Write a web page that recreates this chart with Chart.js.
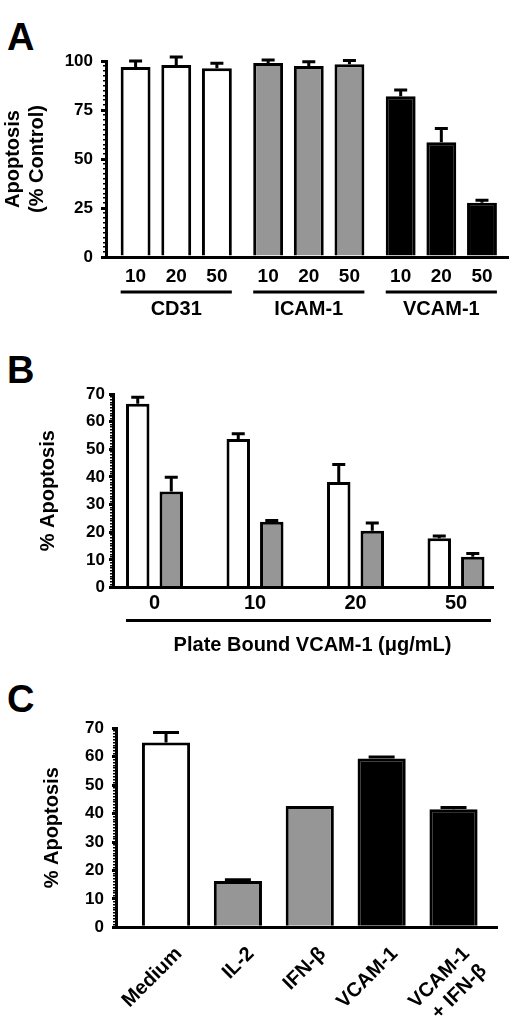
<!DOCTYPE html>
<html lang="en">
<head>
<meta charset="UTF-8">
<title>Apoptosis</title>
<script src="https://cdn.jsdelivr.net/npm/chart.js@4.4.1/dist/chart.umd.min.js"></script>
<style>
  body { margin: 0; background: #fff; width: 520px; height: 1022px; position: relative; overflow: hidden; }
  .panel { position: absolute; left: 0; }
  .letter { position: absolute; left: 7px; font: bold 38px/1 'Liberation Sans', Arial, sans-serif; color: #000; }
</style>
</head>
<body>
<div class="letter" style="top:18px">A</div>
<div class="letter" style="top:351px">B</div>
<div class="letter" style="top:680px">C</div>
<canvas class="panel" id="chartA" width="520" height="335" style="top:0"></canvas>
<canvas class="panel" id="chartB" width="520" height="335" style="top:335px"></canvas>
<canvas class="panel" id="chartC" width="520" height="352" style="top:670px"></canvas>

<script>
// ---- panel A: apoptosis (% control) by coating protein and dose
const groupsA = ['CD31', 'ICAM-1', 'VCAM-1'];
const dosesA = ['10', '20', '50'];
const apopA10 = [97, 99, 82];
const apopA20 = [98, 97.4, 58.5];
const apopA50 = [96.3, 98.3, 27.7];
const errA10 = [3, 1.5, 3.2];
const errA20 = [4, 2.2, 7];
const errA50 = [2.5, 1.9, 1.2];
const fillA = ['#ffffff', '#969696', '#000000'];

// ---- panel B: % apoptosis vs plate bound VCAM-1
const doseB = ['0', '10', '20', '50'];
const apopOpenB = [66.5, 53.7, 38.2, 17.8];
const errOpenB = [2.3, 1.9, 6.3, 0.8];
const apopGreyB = [34.7, 23.8, 20.5, 11.1];
const errGreyB = [5.2, 0.4, 2.8, 1.2];
const xTitleB = 'Plate Bound VCAM-1 (\u03bcg/mL)';

// ---- panel C: % apoptosis by treatment
const treatC = ['Medium', 'IL-2', 'IFN-\u03b2', 'VCAM-1', ['VCAM-1', '+ IFN-\u03b2']];
const apopC = [65, 16.3, 42.7, 59.4, 41.5];
const errC = [3.5, 0.4, 0, 0.5, 0.6];
const fillC = ['#ffffff', '#969696', '#969696', '#000000', '#000000'];

const FONT = "'Liberation Sans', Arial, sans-serif";
Chart.defaults.font.family = FONT;
Chart.defaults.font.weight = 'bold';
Chart.defaults.color = '#000';
Chart.defaults.animation = false;

// widen / narrow the category range so bars sit where the figure has them
function padCategories(before, after) {
    return scale => {
        scale._startValue -= before;
        scale._valueRange += before + after;
    };
}

// left axis with labelled major ticks plus a dotted row of minor ticks
function leftAxes(max, major, minor, width, tickLen, tickPad, title, titlePad) {
    return {
        y: {
            type: 'linear', position: 'left', weight: 1, min: 0, max: max,
            afterFit: s => { s.width = width; },
            ticks: { stepSize: major, padding: tickPad, font: { size: 17, weight: 'bold' }, color: '#000' },
            grid: { drawOnChartArea: false, tickLength: tickLen, lineWidth: 3, color: '#000' },
            border: { color: '#000', width: 3 },
            title: { display: true, text: title, color: '#000', font: { size: 20, weight: 'bold', lineHeight: 1.2 },
                     padding: { top: titlePad, bottom: 0 } }
        },
        yMinor: {
            type: 'linear', position: 'left', weight: 0, min: 0, max: max,
            afterFit: s => { s.width = 0; },
            ticks: { stepSize: minor, display: false },
            grid: { drawOnChartArea: false, tickLength: 3, lineWidth: 1.5, color: '#000' },
            border: { display: false }
        }
    };
}

// upward error bars with a cap
const errorBars = {
    id: 'errorBars',
    afterDatasetsDraw(chart, args, opts) {
        const ctx = chart.ctx;
        const yScale = chart.scales.y;
        ctx.save();
        ctx.strokeStyle = '#000';
        ctx.lineWidth = 3;
        chart.data.datasets.forEach((ds, di) => {
            chart.getDatasetMeta(di).data.forEach((bar, i) => {
                const err = ds.errors[i];
                if (!err) return;
                const yTop = yScale.getPixelForValue(ds.data[i] + err);
                ctx.beginPath();
                ctx.moveTo(bar.x, bar.y);
                ctx.lineTo(bar.x, yTop);
                ctx.moveTo(bar.x - opts.cap / 2, yTop);
                ctx.lineTo(bar.x + opts.cap / 2, yTop);
                ctx.stroke();
            });
        });
        ctx.restore();
    }
};

// panel A: dose under each bar, rule under each protein group
const doseRows = {
    id: 'doseRows',
    afterDraw(chart) {
        const ctx = chart.ctx;
        const base = chart.chartArea.bottom;
        const metas = chart.data.datasets.map((d, i) => chart.getDatasetMeta(i));
        ctx.save();
        ctx.fillStyle = '#000';
        ctx.strokeStyle = '#000';
        ctx.font = 'bold 19px ' + FONT;
        ctx.textAlign = 'center';
        ctx.textBaseline = 'middle';
        metas.forEach((meta, di) => {
            meta.data.forEach(bar => ctx.fillText(chart.data.datasets[di].label, bar.x, base + 20));
        });
        ctx.lineWidth = 3;
        groupsA.forEach((g, i) => {
            const first = metas[0].data[i];
            const last = metas[metas.length - 1].data[i];
            ctx.beginPath();
            ctx.moveTo(first.x - first.width / 2, base + 35);
            ctx.lineTo(last.x + last.width / 2, base + 35);
            ctx.stroke();
        });
        ctx.restore();
    }
};

// panel B: one rule under all doses and the axis caption
const doseRule = {
    id: 'doseRule',
    afterDraw(chart) {
        const ctx = chart.ctx;
        const base = chart.chartArea.bottom;
        const first = chart.getDatasetMeta(0).data[0];
        const x1 = first.x - first.width / 2;
        const x2 = chart.chartArea.right - 2;
        ctx.save();
        ctx.strokeStyle = '#000';
        ctx.lineWidth = 3;
        ctx.beginPath();
        ctx.moveTo(x1, base + 33);
        ctx.lineTo(x2, base + 33);
        ctx.stroke();
        ctx.fillStyle = '#000';
        ctx.font = 'bold 20px ' + FONT;
        ctx.textAlign = 'center';
        ctx.textBaseline = 'middle';
        ctx.fillText(xTitleB, (x1 + x2) / 2 + 4, base + 58);
        ctx.restore();
    }
};

const noChrome = { legend: { display: false }, tooltip: { enabled: false } };

// ---- A
new Chart(document.getElementById('chartA'), {
    type: 'bar',
    data: {
        labels: groupsA,
        datasets: [apopA10, apopA20, apopA50].map((vals, k) => ({
            label: dosesA[k],
            data: vals,
            errors: [errA10, errA20, errA50][k],
            backgroundColor: fillA,
            borderColor: '#000',
            borderWidth: 3,
            categoryPercentage: 0.92,
            barPercentage: 0.735
        }))
    },
    options: {
        responsive: false,
        layout: { padding: { top: 61, right: 2, left: 0, bottom: 0 } },
        scales: Object.assign({
            x: {
                type: 'category', offset: true,
                afterBuildTicks: padCategories(0.03, 0.01),
                afterFit: s => { s.height = 78; },
                grid: { display: false, drawTicks: false },
                border: { color: '#000', width: 3 },
                ticks: { padding: 40, autoSkip: false, maxRotation: 0, color: '#000', font: { size: 20, weight: 'bold' } }
            }
        }, leftAxes(100, 25, 2.5, 106, 5, 8, ['Apoptosis', '(% Control)'], 1.5)),
        plugins: Object.assign({ errorBars: { cap: 13 } }, noChrome)
    },
    plugins: [errorBars, doseRows]
});

// ---- B
new Chart(document.getElementById('chartB'), {
    type: 'bar',
    data: {
        labels: doseB,
        datasets: [
            { label: 'open', data: apopOpenB, errors: errOpenB, backgroundColor: '#ffffff' },
            { label: 'grey', data: apopGreyB, errors: errGreyB, backgroundColor: '#969696' }
        ].map(ds => Object.assign(ds, { borderColor: '#000', borderWidth: 3, categoryPercentage: 0.667, barPercentage: 0.7 }))
    },
    options: {
        responsive: false,
        layout: { padding: { top: 59, right: 27, left: 0, bottom: 0 } },
        scales: Object.assign({
            x: {
                type: 'category', offset: true,
                afterBuildTicks: padCategories(-0.087, -0.132),
                afterFit: s => { s.height = 82.5; },
                grid: { display: false, drawTicks: false },
                border: { color: '#000', width: 3 },
                ticks: { padding: 4, autoSkip: false, maxRotation: 0, color: '#000', font: { size: 20, weight: 'bold' } }
            }
        }, leftAxes(70, 10, 1, 113, 4, 4, '% Apoptosis', 36.5)),
        plugins: Object.assign({ errorBars: { cap: 13 } }, noChrome)
    },
    plugins: [errorBars, doseRule]
});

// ---- C
new Chart(document.getElementById('chartC'), {
    type: 'bar',
    data: {
        labels: treatC,
        datasets: [{
            label: '% Apoptosis',
            data: apopC,
            errors: errC,
            backgroundColor: fillC,
            borderColor: '#000',
            borderWidth: 3,
            categoryPercentage: 1,
            barPercentage: 0.67
        }]
    },
    options: {
        responsive: false,
        layout: { padding: { top: 58.3, right: 23, left: 0, bottom: 0 } },
        scales: Object.assign({
            x: {
                type: 'category', offset: true,
                afterBuildTicks: padCategories(0.196, 0.105),
                afterFit: s => { s.height = 94.7; },
                grid: { display: false, drawTicks: false },
                border: { color: '#000', width: 3 },
                ticks: { padding: 15, labelOffset: 13, autoSkip: false, minRotation: 45, maxRotation: 45,
                         color: '#000', font: { size: 20, weight: 'bold' } }
            }
        }, leftAxes(70, 10, 1, 116, 4, 8, '% Apoptosis', 40)),
        plugins: Object.assign({ errorBars: { cap: 26 } }, noChrome)
    },
    plugins: [errorBars]
});
</script>
</body>
</html>
